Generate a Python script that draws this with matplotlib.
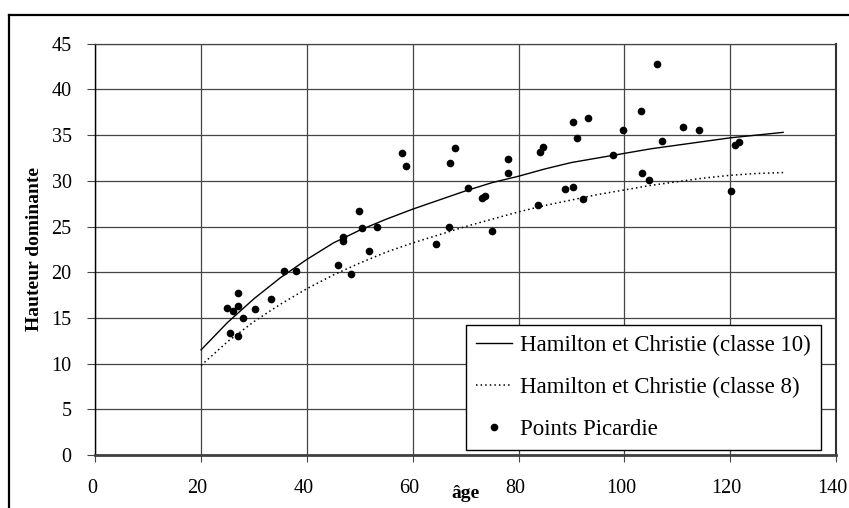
"""
Hauteur dominante en fonction de l'âge : courbes de Hamilton et Christie
(classes 10 et 8) et relevés de placettes en Picardie.
"""

import numpy as np
import matplotlib
matplotlib.use("Agg")
import matplotlib.pyplot as plt
from matplotlib.lines import Line2D
from matplotlib.transforms import ScaledTranslation

# ==== DONNÉES ====
# Courbes de référence, tabulées tous les 5 ans
AGE_COURBE = [20, 25, 30, 35, 40, 45, 50, 55, 60, 65, 70, 75,
              80, 85, 90, 95, 100, 105, 110, 115, 120, 125, 130]
HC_CLASSE_10 = [11.5, 14.5, 17.1, 19.4, 21.4, 23.2, 24.6, 25.8, 26.9, 27.9, 28.9, 29.8,
                30.5, 31.3, 32.0, 32.5, 33.0, 33.5, 33.9, 34.3, 34.7, 35.0, 35.3]
HC_CLASSE_8 = [9.8, 12.4, 14.6, 16.5, 18.2, 19.7, 21.0, 22.2, 23.2, 24.1, 25.0, 25.8,
               26.6, 27.3, 27.9, 28.5, 29.0, 29.5, 29.9, 30.3, 30.6, 30.8, 30.9]

# Placettes Picardie
AGE_PICARDIE = [24.9, 26.0, 27.0, 27.0, 28.0, 25.5, 27.0, 30.2, 33.3, 35.7,
                37.9, 45.9, 46.9, 46.9, 48.3, 49.9, 50.4, 51.7, 53.3, 58.0,
                58.7, 64.4, 66.8, 67.0, 68.0, 70.4, 73.0, 73.7, 75.0, 78.0,
                78.0, 83.7, 84.0, 84.7, 88.7, 90.2, 90.2, 91.1, 92.2, 93.1,
                97.8, 99.8, 103.1, 103.4, 104.6, 106.1, 107.1, 111.1, 114.1, 120.1,
                121.0, 121.7]
HAUTEUR_PICARDIE = [16.05, 15.8, 17.7, 16.3, 15.0, 13.4, 13.0, 16.0, 17.1, 20.1,
                    20.1, 20.8, 23.8, 23.4, 19.8, 26.7, 24.8, 22.3, 24.9, 33.0,
                    31.6, 23.1, 25.0, 31.9, 33.6, 29.2, 28.15, 28.3, 24.5, 32.4,
                    30.9, 27.4, 33.1, 33.7, 29.1, 36.4, 29.3, 34.7, 28.0, 36.9,
                    32.8, 35.6, 37.6, 30.85, 30.05, 42.8, 34.3, 35.9, 35.6, 28.9,
                    33.9, 34.2]

X_TICKS = [0, 20, 40, 60, 80, 100, 120, 140]
Y_TICKS = [0, 5, 10, 15, 20, 25, 30, 35, 40, 45]

# ==== STYLE ====
plt.rcParams["font.family"] = ["Liberation Serif", "DejaVu Serif"]
TICK_FONTSIZE = 14.5
LEGEND_FONTSIZE = 16.5
GRID_COLOR = "#454545"

fig = plt.figure(figsize=(8.49, 5.08), dpi=100)
ax = fig.add_axes([0.1122, 0.1043, 0.8725, 0.8097])

ax.plot(AGE_COURBE, HC_CLASSE_10, "-", color="black", linewidth=1.0,
        label="Hamilton et Christie (classe 10)")
ax.plot(AGE_COURBE, HC_CLASSE_8, color="black", linewidth=1.1,
        linestyle=(0, (1, 2)), label="Hamilton et Christie (classe 8)")
ax.plot(AGE_PICARDIE, HAUTEUR_PICARDIE, "o", color="black", markersize=4.5,
        linestyle="none", label="Points Picardie")

ax.set_xlim(0, 140)
ax.set_ylim(0, 45)
ax.set_xticks(X_TICKS)
ax.set_yticks(Y_TICKS)
ax.tick_params(axis="both", labelsize=TICK_FONTSIZE, direction="out", color=GRID_COLOR)
ax.tick_params(axis="x", length=5, pad=12)
ax.tick_params(axis="y", length=6, pad=11)

# Étiquettes de l'axe X légèrement décalées vers la gauche
decalage = ScaledTranslation(-3.5 / 100, 0, fig.dpi_scale_trans)
for lab in ax.get_xticklabels():
    lab.set_transform(lab.get_transform() + decalage)

ax.grid(True, color=GRID_COLOR, linewidth=0.9)
ax.set_axisbelow(True)

ax.spines["bottom"].set_linewidth(2.0)
ax.spines["bottom"].set_color("#404040")
ax.spines["left"].set_linewidth(1.0)
ax.spines["left"].set_color("black")
ax.spines["top"].set_color(GRID_COLOR)
ax.spines["top"].set_linewidth(0.9)
ax.spines["right"].set_color("#303030")
ax.spines["right"].set_linewidth(1.5)

ax.set_xlabel("âge", fontsize=14, fontweight="bold")
ax.xaxis.set_label_coords(0.5, -0.074)
ax.set_ylabel("Hauteur dominante", fontsize=14, fontweight="bold")
ax.yaxis.set_label_coords(-0.071, 0.5)

leg = ax.legend(loc="lower left", bbox_to_anchor=(0.5005, 0.012), borderaxespad=0,
                fontsize=LEGEND_FONTSIZE, frameon=True, fancybox=False, framealpha=1,
                edgecolor="black", numpoints=1, handlelength=1.55, handletextpad=0.35,
                labelspacing=0.9, borderpad=0.45)
leg.get_frame().set_linewidth(1.0)

# Cadre de la zone de graphique
fig.add_artist(Line2D([9 / 849, 9 / 849], [0, 1 - 15 / 508], transform=fig.transFigure,
                      color="black", linewidth=1.6))
fig.add_artist(Line2D([9 / 849, 1], [1 - 15 / 508, 1 - 15 / 508], transform=fig.transFigure,
                      color="black", linewidth=1.6))

fig.savefig("out.png", dpi=100)
